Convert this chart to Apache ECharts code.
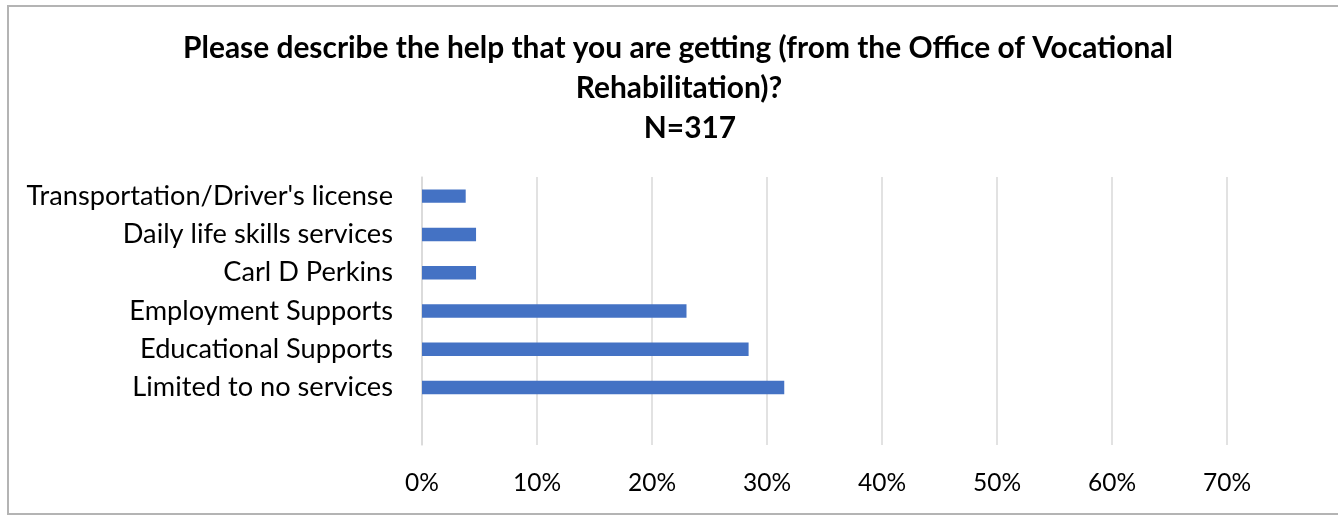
<!DOCTYPE html>
<html>
<head>
<meta charset="utf-8">
<script src="https://cdn.jsdelivr.net/npm/echarts@6/dist/echarts.min.js"></script>
<style>
  html, body { margin: 0; padding: 0; background: #fff; }
  #wrap { position: relative; width: 1338px; height: 518px; overflow: hidden; }
  #frame { position: absolute; left: 7px; top: 5px; width: 1340px; height: 510px;
           border: 2px solid #b4b4b4; box-sizing: border-box; }
  #chart { position: absolute; left: 0; top: 0; width: 1338px; height: 518px; }
</style>
</head>
<body>
<div id="wrap"><div id="frame"></div><div id="chart"></div></div>
<script>
// Survey answers, listed top to bottom; the trailing blank row leaves an empty slot under the last bar.
const categories = [
  "Transportation/Driver's license",
  "Daily life skills services",
  "Carl D Perkins",
  "Employment Supports",
  "Educational Supports",
  "Limited to no services",
  ""
];
const shares = [0.038, 0.047, 0.047, 0.23, 0.284, 0.315, null];
const titleLines = [
  "Please describe the help that you are getting (from the Office of Vocational",
  "Rehabilitation)?",
  "N=317"
];
const axisMax = 0.7;
const axisStep = 0.1;

const FAMILY = "Lato, 'Open Sans', 'Liberation Sans', sans-serif";

// Pick a font size so a string spans the wanted width.
function fitSize(text, weight, width) {
  const ctx = document.createElement('canvas').getContext('2d');
  ctx.font = weight + ' 100px ' + FAMILY;
  return Math.round(100 * width / ctx.measureText(text).width * 10) / 10;
}

const titleSize = fitSize(titleLines[0], 'bold', 990);
const labelSize = fitSize(categories[0], 'normal', 367);
const tickSize = fitSize('70%', 'normal', 48);

const chart = echarts.init(document.getElementById('chart'), null, { renderer: 'canvas' });

const titleCenters = [673, 674, 685];
const titleTops = [46, 86, 126];

chart.setOption({
  animation: false,
  title: titleLines.map((t, i) => ({
    text: t,
    left: titleCenters[i],
    top: titleTops[i] - titleSize * 0.6,
    textAlign: 'center',
    textStyle: { fontFamily: FAMILY, fontWeight: 'bold', fontSize: titleSize, color: '#000' }
  })),
  grid: { left: 422, right: 111, top: 177, bottom: 73, containLabel: false },
  xAxis: {
    type: 'value',
    min: 0,
    max: axisMax,
    interval: axisStep,
    axisLine: { show: false },
    axisTick: { show: false },
    splitLine: { show: true, lineStyle: { color: '#d9d9d9', width: 1.5 } },
    axisLabel: {
      margin: 26,
      color: '#000',
      fontFamily: FAMILY,
      fontSize: tickSize,
      formatter: v => Math.round(v * 100) + '%'
    }
  },
  yAxis: {
    type: 'category',
    inverse: true,
    data: categories,
    axisLine: { show: true, lineStyle: { color: '#d9d9d9', width: 1.5 } },
    axisTick: { show: false },
    axisLabel: {
      margin: 29,
      color: '#000',
      fontFamily: FAMILY,
      fontSize: labelSize
    }
  },
  series: [{
    type: 'bar',
    data: shares,
    barWidth: '35%',
    itemStyle: { color: '#4472C4' }
  }]
});
</script>
</body>
</html>
